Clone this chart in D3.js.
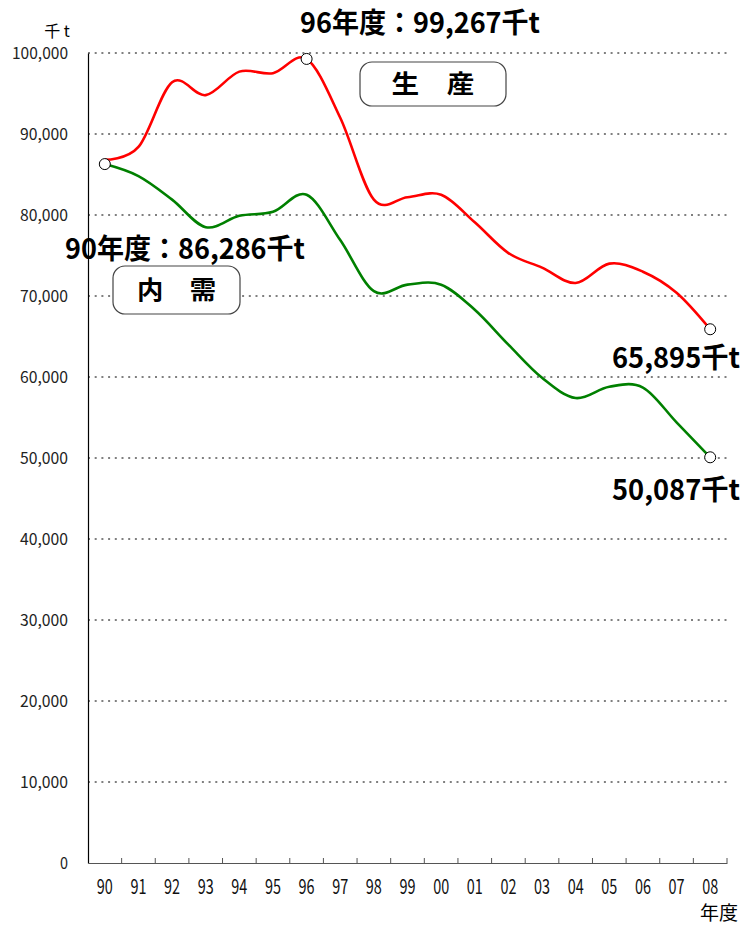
<!DOCTYPE html>
<html><head><meta charset="utf-8">
<script src="https://cdn.jsdelivr.net/npm/d3@7"></script>
<style>
html,body{margin:0;padding:0;background:#fff;}
svg{display:block;}
text{font-family:"Noto Sans CJK JP","Noto Sans",sans-serif;}
</style></head>
<body>
<svg id="chart" width="743" height="925"></svg>
<script>
const years = ["90","91","92","93","94","95","96","97","98","99","00","01","02","03","04","05","06","07","08"];
const production = [86800,88400,96400,94800,97700,97500,99267,92000,81900,82200,82500,79100,75300,73500,71600,74000,73000,70400,65895];
const demand = [86286,84800,81900,78500,79900,80400,82500,76900,70600,71400,71400,68300,64000,59900,57400,58800,58700,54400,50087];
const yTicks = [0,10000,20000,30000,40000,50000,60000,70000,80000,90000,100000];

const svg = d3.select("#chart");
const x = d3.scaleBand().domain(years).range([88, 727]);
const y = d3.scaleLinear().domain([0, 100000]).range([863, 53]);
const cx = d => x(d) + x.bandwidth() / 2;
const fmt = d3.format(",");

// gridlines
svg.append("g").selectAll("line").data(yTicks.filter(d => d > 0)).join("line")
  .attr("x1", 88).attr("x2", 727)
  .attr("y1", d => y(d)).attr("y2", d => y(d))
  .attr("stroke", "#000").attr("stroke-width", 1).attr("stroke-dasharray", "2,4.7");

// y axis
const yAxis = d3.axisLeft(y).tickValues(yTicks).tickSize(0).tickPadding(20)
  .tickFormat(d => d === 0 ? "0" : fmt(d));
const gy = svg.append("g").attr("transform", "translate(88,0)").call(yAxis);
gy.select(".domain").attr("stroke", "#000").attr("stroke-width", 1.2);
gy.selectAll("text").attr("font-size", 16).attr("fill", "#222")
  .attr("font-family", "'Noto Sans CJK JP', sans-serif")
  .attr("textLength", function() { return this.textContent.length * 8; })
  .attr("lengthAdjust", "spacingAndGlyphs");

// x axis (ticks at band boundaries, pointing up)
const xAxis = d3.axisBottom(x).tickSize(0).tickPadding(17);
const gx = svg.append("g").attr("transform", "translate(0,863)").call(xAxis);
gx.select(".domain").attr("stroke", "#555").attr("stroke-width", 1.2);
gx.selectAll("text").attr("font-size", 20).attr("fill", "#111")
  .attr("textLength", 16).attr("lengthAdjust", "spacingAndGlyphs");
gx.append("g").selectAll("line").data(years).join("line")
  .attr("x1", d => x(d) + x.bandwidth()).attr("x2", d => x(d) + x.bandwidth())
  .attr("y1", 0).attr("y2", -5).attr("stroke", "#555");

// lines
const line = d3.line().x((d, i) => cx(years[i])).y(d => y(d)).curve(d3.curveCatmullRom.alpha(0));
svg.append("path").datum(demand).attr("d", line).attr("fill", "none")
  .attr("stroke", "#008000").attr("stroke-width", 2.6);
svg.append("path").datum(production).attr("d", line).attr("fill", "none")
  .attr("stroke", "#ff0000").attr("stroke-width", 2.6);

// marker circles
const markers = [
  {year: "90", v: demand[0]},
  {year: "96", v: production[6]},
  {year: "08", v: production[18]},
  {year: "08", v: demand[18]}
];
svg.append("g").selectAll("circle").data(markers).join("circle")
  .attr("cx", d => cx(d.year)).attr("cy", d => y(d.v)).attr("r", 5.5)
  .attr("fill", "#fff").attr("stroke", "#000").attr("stroke-width", 1);

// unit labels
svg.append("text").attr("x", 57).attr("y", 37).attr("text-anchor", "middle")
  .attr("font-size", 16).text("千 t");
svg.append("text").attr("x", 738).attr("y", 920).attr("text-anchor", "end")
  .attr("font-size", 19).text("年度");

// annotations
const ann = [
  {t: "96年度：99,267千t", x: 300, y: 33, w: 240},
  {t: "90年度：86,286千t", x: 65, y: 259, w: 240},
  {t: "65,895千t", x: 612, y: 368, w: 128},
  {t: "50,087千t", x: 612, y: 500, w: 128}
];
svg.append("g").selectAll("text").data(ann).join("text")
  .attr("x", d => d.x).attr("y", d => d.y)
  .attr("font-size", 28).attr("font-weight", "bold")
  .attr("textLength", d => d.w).attr("lengthAdjust", "spacingAndGlyphs")
  .text(d => d.t);

// boxes
const boxes = [
  {t: "生　産", x: 360, y: 62, w: 146, h: 44, tw: 83},
  {t: "内　需", x: 113, y: 266, w: 127, h: 48, tw: 79}
];
const bg = svg.append("g").selectAll("g").data(boxes).join("g");
bg.append("rect").attr("x", d => d.x).attr("y", d => d.y)
  .attr("width", d => d.w).attr("height", d => d.h).attr("rx", 12).attr("ry", 12)
  .attr("fill", "#fff").attr("stroke", "#444").attr("stroke-width", 1.2);
bg.append("text").attr("x", d => d.x + d.w / 2).attr("y", d => d.y + d.h / 2 + 9)
  .attr("text-anchor", "middle").attr("font-size", 25).attr("font-weight", "bold")
  .attr("textLength", d => d.tw).attr("lengthAdjust", "spacingAndGlyphs")
  .text(d => d.t);
</script>
</body></html>
